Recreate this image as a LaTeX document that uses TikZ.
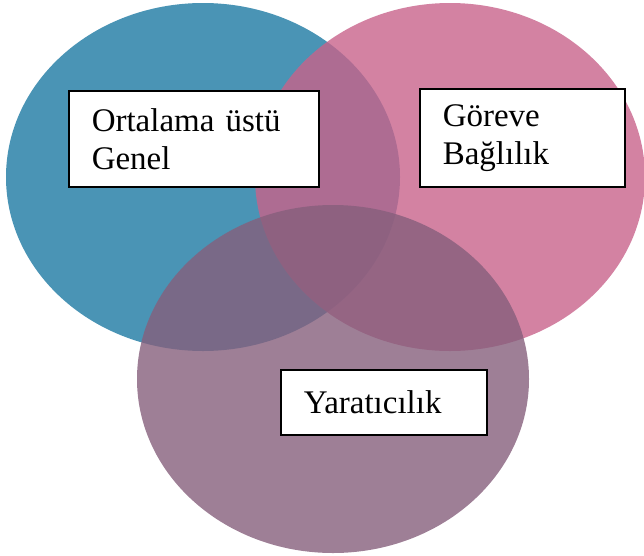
\documentclass[tikz,border=0pt]{standalone}
\usepackage{fontspec}
\setmainfont{Liberation Serif}
\usetikzlibrary{positioning}
\definecolor{setblue}{RGB}{29,121,162}
\definecolor{setpink}{RGB}{200,99,139}
\definecolor{setmauve}{RGB}{134,95,124}

\begin{document}
\begin{tikzpicture}[
  x=1pt, y=-1pt,
  venn/.style={fill opacity=0.8},
  tag/.style={draw=black, line width=1.5pt, fill=white, anchor=north west,
              align=left, inner xsep=23pt, inner ysep=0pt,
              font=\fontsize{33}{38}\selectfont}
]
  \useasboundingbox (0,0) rectangle (644,555);

  % --- Three sets ---
  \fill[venn, setblue]  (203,177) ellipse [x radius=197pt, y radius=174pt];
  \fill[venn, setpink]  (450,177) ellipse [x radius=195pt, y radius=174pt];
  \fill[venn, setmauve] (333,379) ellipse [x radius=196pt, y radius=174pt];

  % --- Set labels ---
  \node[tag, text width=204pt, minimum height=96pt] (ortalama) at (68,90)
    {Ortalama üstü\\Genel};
  \node[tag, text width=159pt, minimum height=98pt] (goreve) at (419,88)
    {Göreve\\Bağlılık};
  \node[tag, text width=160pt, minimum height=65pt] (yaraticilik) at (280,369)
    {Yaratıcılık};

\end{tikzpicture}
\end{document}
